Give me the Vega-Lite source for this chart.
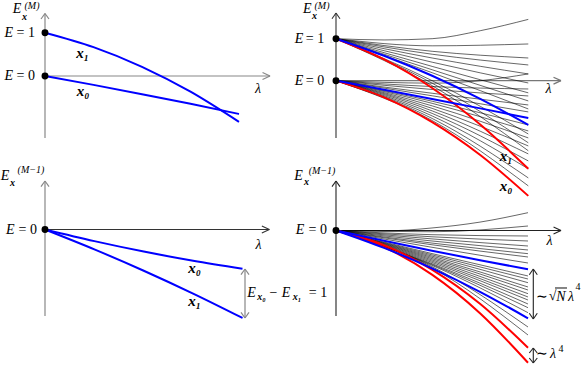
{
"$schema": "https://vega.github.io/schema/vega-lite/v6.json",
"padding": 0,
"spacing": 0,
"bounds": "flush",
"columns": 2,
"config": {"view": {"stroke": null}, "concat": {"spacing": 0}},
"concat": [
{
"width": 293, "height": 183,
"encoding": {
"x": {"field": "lam", "type": "quantitative", "scale": {"domain": [-0.2268, 1.2835], "nice": false, "zero": false}, "axis": null},
"y": {"field": "E", "type": "quantitative", "scale": {"domain": [-2.494, 1.732], "nice": false, "zero": false}, "axis": null}
},
"layer": [
{"data": {"values": [
{"lam": 0, "E": -1.432, "lam2": 0, "E2": 1.443},
{"lam": -0.0206, "E": 1.316, "lam2": 0, "E2": 1.443},
{"lam": 0.0206, "E": 1.316, "lam2": 0, "E2": 1.443},
{"lam": 0, "E": 0, "lam2": 1.16, "E2": 0},
{"lam": 1.1213, "E": 0.081, "lam2": 1.16, "E2": 0},
{"lam": 1.1213, "E": -0.081, "lam2": 1.16, "E2": 0}
]},
"mark": {"type": "rule", "color": "#888888", "strokeWidth": 1.2},
"encoding": {"x2": {"field": "lam2"}, "y2": {"field": "E2"}}},
{"data": {"values": [
{"id": "x1", "lam": 0, "E": 1}, {"id": "x1", "lam": 0.25, "E": 0.667}, {"id": "x1", "lam": 0.5, "E": 0.2125}, {"id": "x1", "lam": 0.75, "E": -0.363}, {"id": "x1", "lam": 1, "E": -1.06},
{"id": "x0", "lam": 0, "E": 0}, {"id": "x0", "lam": 0.25, "E": -0.205}, {"id": "x0", "lam": 0.5, "E": -0.419}, {"id": "x0", "lam": 0.75, "E": -0.643}, {"id": "x0", "lam": 1, "E": -0.877}
]},
"mark": {"type": "line", "interpolate": "monotone", "color": "#0000ff", "strokeWidth": 2},
"encoding": {"detail": {"field": "id"}}},
{"data": {"values": [{"lam": 0, "E": 1}, {"lam": 0, "E": 0}]},
"mark": {"type": "circle", "size": 48, "color": "#000000", "opacity": 1}},
{"data": {"values": [
{"lam": -0.1866, "E": 1, "t": "E"}, {"lam": -0.1866, "E": 0, "t": "E"},
{"lam": -0.1443, "E": 1.536, "t": "E"}, {"lam": 1.098, "E": -0.3, "t": "λ"}
]},
"mark": {"type": "text", "font": "Liberation Serif", "fontSize": 14, "fontStyle": "italic", "align": "center", "baseline": "middle"},
"encoding": {"text": {"field": "t"}}},
{"data": {"values": [{"lam": -0.0995, "E": 1, "t": "= 1"}, {"lam": -0.0995, "E": 0, "t": "= 0"}]},
"mark": {"type": "text", "font": "Liberation Serif", "fontSize": 14, "align": "center", "baseline": "middle"},
"encoding": {"text": {"field": "t"}}},
{"data": {"values": [{"lam": 0.1933, "E": 0.531, "t": "x₁"}, {"lam": 0.1959, "E": -0.346, "t": "x₀"}]},
"mark": {"type": "text", "font": "Liberation Serif", "fontSize": 15, "fontStyle": "italic", "fontWeight": "bold", "align": "center", "baseline": "middle"},
"encoding": {"text": {"field": "t"}}},
{"data": {"values": [{"lam": -0.1057, "E": 1.374, "t": "x"}]},
"mark": {"type": "text", "font": "Liberation Serif", "fontSize": 10, "fontStyle": "italic", "fontWeight": "bold", "align": "center", "baseline": "middle"},
"encoding": {"text": {"field": "t"}}},
{"data": {"values": [{"lam": -0.067, "E": 1.628, "t": "(M)"}]},
"mark": {"type": "text", "font": "Liberation Serif", "fontSize": 10, "fontStyle": "italic", "align": "center", "baseline": "middle"},
"encoding": {"text": {"field": "t"}}}
]
},
{
"width": 293, "height": 183,
"encoding": {
"x": {"field": "lam", "type": "quantitative", "scale": {"domain": [-0.2184, 1.3053], "nice": false, "zero": false}, "axis": null},
"y": {"field": "E", "type": "quantitative", "scale": {"domain": [-2.462, 1.898], "nice": false, "zero": false}, "axis": null}
},
"layer": [
{"data": {"values": [
{"lam": 0, "E": 0, "lam2": 1.17, "E2": 0},
{"lam": 1.131, "E": 0.083, "lam2": 1.17, "E2": 0},
{"lam": 1.131, "E": -0.083, "lam2": 1.17, "E2": 0}
]},
"mark": {"type": "rule", "color": "#777777", "strokeWidth": 1.2},
"encoding": {"x2": {"field": "lam2"}, "y2": {"field": "E2"}}},
{"data": {"values": [
{"lam": 0, "E": -1.367, "lam2": 0, "E2": 1.612},
{"lam": -0.0208, "E": 1.476, "lam2": 0, "E2": 1.612},
{"lam": 0.0208, "E": 1.476, "lam2": 0, "E2": 1.612}
]},
"mark": {"type": "rule", "color": "#333333", "strokeWidth": 1.1},
"encoding": {"x2": {"field": "lam2"}, "y2": {"field": "E2"}}},
{"data": {"values": [
{"id": "u1", "lam": 0, "E": 1}, {"id": "u1", "lam": 0.25, "E": 0.97}, {"id": "u1", "lam": 0.5, "E": 1.0}, {"id": "u1", "lam": 0.75, "E": 1.19}, {"id": "u1", "lam": 1, "E": 1.46},
{"id": "u2", "lam": 0, "E": 1}, {"id": "u2", "lam": 0.5, "E": 0.83}, {"id": "u2", "lam": 1, "E": 0.874},
{"id": "u3", "lam": 0, "E": 1}, {"id": "u3", "lam": 0.5, "E": 0.7}, {"id": "u3", "lam": 1, "E": 0.54},
{"id": "u4", "lam": 0, "E": 1}, {"id": "u4", "lam": 0.5, "E": 0.63}, {"id": "u4", "lam": 1, "E": 0.374},
{"id": "u5", "lam": 0, "E": 1}, {"id": "u5", "lam": 0.5, "E": 0.54}, {"id": "u5", "lam": 1, "E": 0.16},
{"id": "u6", "lam": 0, "E": 1}, {"id": "u6", "lam": 0.5, "E": 0.44}, {"id": "u6", "lam": 1, "E": -0.055},
{"id": "u7", "lam": 0, "E": 1}, {"id": "u7", "lam": 0.5, "E": 0.34}, {"id": "u7", "lam": 1, "E": -0.29},
{"id": "u8", "lam": 0, "E": 1}, {"id": "u8", "lam": 0.5, "E": 0.26}, {"id": "u8", "lam": 1, "E": -0.483},
{"id": "u9", "lam": 0, "E": 1}, {"id": "u9", "lam": 0.5, "E": 0.19}, {"id": "u9", "lam": 1, "E": -0.674},
{"id": "u10", "lam": 0, "E": 1}, {"id": "u10", "lam": 0.5, "E": 0.0}, {"id": "u10", "lam": 1, "E": -1.27},
{"id": "u11", "lam": 0, "E": 1}, {"id": "u11", "lam": 0.5, "E": -0.06}, {"id": "u11", "lam": 1, "E": -1.48},
{"id": "u12", "lam": 0, "E": 1}, {"id": "u12", "lam": 0.5, "E": -0.12}, {"id": "u12", "lam": 1, "E": -1.67},
{"id": "l1", "lam": 0, "E": 0}, {"id": "l1", "lam": 0.25, "E": -0.04}, {"id": "l1", "lam": 0.5, "E": -0.06}, {"id": "l1", "lam": 0.75, "E": 0.0}, {"id": "l1", "lam": 1, "E": 0.16},
{"id": "l2", "lam": 0, "E": 0}, {"id": "l2", "lam": 0.5, "E": -0.14}, {"id": "l2", "lam": 1, "E": -0.198},
{"id": "l3", "lam": 0, "E": 0}, {"id": "l3", "lam": 0.5, "E": -0.21}, {"id": "l3", "lam": 1, "E": -0.364},
{"id": "l4", "lam": 0, "E": 0}, {"id": "l4", "lam": 0.5, "E": -0.3}, {"id": "l4", "lam": 1, "E": -0.579},
{"id": "l5", "lam": 0, "E": 0}, {"id": "l5", "lam": 0.5, "E": -0.36}, {"id": "l5", "lam": 1, "E": -0.745},
{"id": "l6", "lam": 0, "E": 0}, {"id": "l6", "lam": 0.5, "E": -0.49}, {"id": "l6", "lam": 1, "E": -1.055},
{"id": "l7", "lam": 0, "E": 0}, {"id": "l7", "lam": 0.5, "E": -0.54}, {"id": "l7", "lam": 1, "E": -1.198},
{"id": "l8", "lam": 0, "E": 0}, {"id": "l8", "lam": 0.5, "E": -0.6}, {"id": "l8", "lam": 1, "E": -1.364},
{"id": "l9", "lam": 0, "E": 0}, {"id": "l9", "lam": 0.5, "E": -0.66}, {"id": "l9", "lam": 1, "E": -1.555},
{"id": "l10", "lam": 0, "E": 0}, {"id": "l10", "lam": 0.5, "E": -0.72}, {"id": "l10", "lam": 1, "E": -1.745},
{"id": "l11", "lam": 0, "E": 0}, {"id": "l11", "lam": 0.5, "E": -0.78}, {"id": "l11", "lam": 1, "E": -1.912},
{"id": "l12", "lam": 0, "E": 0}, {"id": "l12", "lam": 0.5, "E": -0.84}, {"id": "l12", "lam": 1, "E": -2.1},
{"id": "l13", "lam": 0, "E": 0}, {"id": "l13", "lam": 0.5, "E": -0.9}, {"id": "l13", "lam": 1, "E": -2.317},
{"id": "l14", "lam": 0, "E": 0}, {"id": "l14", "lam": 0.5, "E": -0.95}, {"id": "l14", "lam": 1, "E": -2.507}
]},
"mark": {"type": "line", "interpolate": "monotone", "color": "#000000", "strokeWidth": 0.6},
"encoding": {"detail": {"field": "id"}}},
{"data": {"values": [
{"id": "x1r", "role": "bound", "lam": 0, "E": 1}, {"id": "x1r", "role": "bound", "lam": 0.25, "E": 0.506}, {"id": "x1r", "role": "bound", "lam": 0.5, "E": -0.175}, {"id": "x1r", "role": "bound", "lam": 0.75, "E": -1.044}, {"id": "x1r", "role": "bound", "lam": 1, "E": -2.1},
{"id": "x0r", "role": "bound", "lam": 0, "E": 0}, {"id": "x0r", "role": "bound", "lam": 0.25, "E": -0.4}, {"id": "x0r", "role": "bound", "lam": 0.5, "E": -0.99}, {"id": "x0r", "role": "bound", "lam": 0.75, "E": -1.772}, {"id": "x0r", "role": "bound", "lam": 1, "E": -2.745},
{"id": "x1b", "role": "state", "lam": 0, "E": 1}, {"id": "x1b", "role": "state", "lam": 0.25, "E": 0.594}, {"id": "x1b", "role": "state", "lam": 0.5, "E": 0.117}, {"id": "x1b", "role": "state", "lam": 0.75, "E": -0.433}, {"id": "x1b", "role": "state", "lam": 1, "E": -1.055},
{"id": "x0b", "role": "state", "lam": 0, "E": 0}, {"id": "x0b", "role": "state", "lam": 0.25, "E": -0.215}, {"id": "x0b", "role": "state", "lam": 0.5, "E": -0.435}, {"id": "x0b", "role": "state", "lam": 0.75, "E": -0.66}, {"id": "x0b", "role": "state", "lam": 1, "E": -0.89}
]},
"mark": {"type": "line", "interpolate": "monotone", "strokeWidth": 2},
"encoding": {"detail": {"field": "id"}, "color": {"field": "role", "type": "nominal", "scale": {"domain": ["state", "bound"], "range": ["#0000ff", "#ff0000"]}, "legend": null}}},
{"data": {"values": [{"lam": 0, "E": 1}, {"lam": 0, "E": 0}]},
"mark": {"type": "circle", "size": 48, "color": "#000000", "opacity": 1}},
{"data": {"values": [
{"lam": -0.1924, "E": 1, "t": "E"}, {"lam": -0.1924, "E": 0, "t": "E"},
{"lam": -0.1498, "E": 1.7, "t": "E"}, {"lam": 1.105, "E": -0.198, "t": "λ"}
]},
"mark": {"type": "text", "font": "Liberation Serif", "fontSize": 14, "fontStyle": "italic", "align": "center", "baseline": "middle"},
"encoding": {"text": {"field": "t"}}},
{"data": {"values": [{"lam": -0.1092, "E": 1, "t": "= 1"}, {"lam": -0.1092, "E": 0, "t": "= 0"}]},
"mark": {"type": "text", "font": "Liberation Serif", "fontSize": 14, "align": "center", "baseline": "middle"},
"encoding": {"text": {"field": "t"}}},
{"data": {"values": [{"lam": 0.884, "E": -1.793, "t": "x₁"}, {"lam": 0.884, "E": -2.507, "t": "x₀"}]},
"mark": {"type": "text", "font": "Liberation Serif", "fontSize": 15, "fontStyle": "italic", "fontWeight": "bold", "align": "center", "baseline": "middle"},
"encoding": {"text": {"field": "t"}}},
{"data": {"values": [{"lam": -0.1118, "E": 1.54, "t": "x"}]},
"mark": {"type": "text", "font": "Liberation Serif", "fontSize": 10, "fontStyle": "italic", "fontWeight": "bold", "align": "center", "baseline": "middle"},
"encoding": {"text": {"field": "t"}}},
{"data": {"values": [{"lam": -0.0728, "E": 1.79, "t": "(M)"}]},
"mark": {"type": "text", "font": "Liberation Serif", "fontSize": 10, "fontStyle": "italic", "align": "center", "baseline": "middle"},
"encoding": {"text": {"field": "t"}}}
]
},
{
"width": 293, "height": 184,
"encoding": {
"x": {"field": "lam", "type": "quantitative", "scale": {"domain": [-0.2228, 1.2608], "nice": false, "zero": false}, "axis": null},
"y": {"field": "E", "type": "quantitative", "scale": {"domain": [-2.809, 0.923], "nice": false, "zero": false}, "axis": null}
},
"layer": [
{"data": {"values": [
{"lam": 0, "E": -1.755, "lam2": 0, "E2": 0.984},
{"lam": -0.0203, "E": 0.868, "lam2": 0, "E2": 0.984},
{"lam": 0.0203, "E": 0.868, "lam2": 0, "E2": 0.984},
{"lam": 1.0127, "E": -0.801, "lam2": 1.0127, "E2": -1.795},
{"lam": 0.9924, "E": -0.917, "lam2": 1.0127, "E2": -0.801},
{"lam": 1.033, "E": -0.917, "lam2": 1.0127, "E2": -0.801},
{"lam": 0.9924, "E": -1.679, "lam2": 1.0127, "E2": -1.795},
{"lam": 1.033, "E": -1.679, "lam2": 1.0127, "E2": -1.795}
]},
"mark": {"type": "rule", "color": "#888888", "strokeWidth": 1.2},
"encoding": {"x2": {"field": "lam2"}, "y2": {"field": "E2"}}},
{"data": {"values": [
{"lam": 0, "E": 0, "lam2": 1.136, "E2": 0},
{"lam": 1.098, "E": 0.071, "lam2": 1.136, "E2": 0},
{"lam": 1.098, "E": -0.071, "lam2": 1.136, "E2": 0}
]},
"mark": {"type": "rule", "color": "#333333", "strokeWidth": 1.1},
"encoding": {"x2": {"field": "lam2"}, "y2": {"field": "E2"}}},
{"data": {"values": [
{"id": "x0", "lam": 0, "E": 0}, {"id": "x0", "lam": 0.25, "E": -0.236}, {"id": "x0", "lam": 0.5, "E": -0.4475}, {"id": "x0", "lam": 0.75, "E": -0.634}, {"id": "x0", "lam": 1, "E": -0.795},
{"id": "x1", "lam": 0, "E": 0}, {"id": "x1", "lam": 0.25, "E": -0.403}, {"id": "x1", "lam": 0.5, "E": -0.836}, {"id": "x1", "lam": 0.75, "E": -1.3}, {"id": "x1", "lam": 1, "E": -1.795}
]},
"mark": {"type": "line", "interpolate": "monotone", "color": "#0000ff", "strokeWidth": 2},
"encoding": {"detail": {"field": "id"}}},
{"data": {"values": [{"lam": 0, "E": 0}]},
"mark": {"type": "circle", "size": 48, "color": "#000000", "opacity": 1}},
{"data": {"values": [
{"lam": -0.1762, "E": 0, "t": "E"}, {"lam": -0.2025, "E": 1.085, "t": "E"},
{"lam": 1.081, "E": -0.314, "t": "λ"},
{"lam": 1.0456, "E": -1.288, "t": "E"}, {"lam": 1.2203, "E": -1.288, "t": "E"}
]},
"mark": {"type": "text", "font": "Liberation Serif", "fontSize": 14, "fontStyle": "italic", "align": "center", "baseline": "middle"},
"encoding": {"text": {"field": "t"}}},
{"data": {"values": [
{"lam": -0.0876, "E": 0, "t": "= 0"},
{"lam": 1.157, "E": -1.288, "t": "−"},
{"lam": 1.3823, "E": -1.288, "t": "= 1"}
]},
"mark": {"type": "text", "font": "Liberation Serif", "fontSize": 14, "align": "center", "baseline": "middle"},
"encoding": {"text": {"field": "t"}}},
{"data": {"values": [{"lam": 0.757, "E": -0.781, "t": "x₀"}, {"lam": 0.757, "E": -1.45, "t": "x₁"}]},
"mark": {"type": "text", "font": "Liberation Serif", "fontSize": 15, "fontStyle": "italic", "fontWeight": "bold", "align": "center", "baseline": "middle"},
"encoding": {"text": {"field": "t"}}},
{"data": {"values": [
{"lam": -0.1646, "E": 0.953, "t": "x"},
{"lam": 1.0962, "E": -1.379, "t": "x₀"},
{"lam": 1.2759, "E": -1.379, "t": "x₁"}
]},
"mark": {"type": "text", "font": "Liberation Serif", "fontSize": 10, "fontStyle": "italic", "fontWeight": "bold", "align": "center", "baseline": "middle"},
"encoding": {"text": {"field": "t"}}},
{"data": {"values": [{"lam": -0.0709, "E": 1.197, "t": "(M−1)"}]},
"mark": {"type": "text", "font": "Liberation Serif", "fontSize": 10, "fontStyle": "italic", "align": "center", "baseline": "middle"},
"encoding": {"text": {"field": "t"}}}
]
},
{
"width": 293, "height": 184,
"encoding": {
"x": {"field": "lam", "type": "quantitative", "scale": {"domain": [-0.21875, 1.3073], "nice": false, "zero": false}, "axis": null},
"y": {"field": "E", "type": "quantitative", "scale": {"domain": [-3.274, 1.107], "nice": false, "zero": false}, "axis": null}
},
"layer": [
{"data": {"values": [
{"lam": 0, "E": -2.036, "lam2": 0, "E2": 1.179},
{"lam": -0.0208, "E": 1.043, "lam2": 0, "E2": 1.179},
{"lam": 0.0208, "E": 1.043, "lam2": 0, "E2": 1.179},
{"lam": 0, "E": 0, "lam2": 1.172, "E2": 0},
{"lam": 1.133, "E": 0.083, "lam2": 1.172, "E2": 0},
{"lam": 1.133, "E": -0.083, "lam2": 1.172, "E2": 0},
{"lam": 1.0276, "E": -0.917, "lam2": 1.0276, "E2": -2.107},
{"lam": 1.0068, "E": -1.053, "lam2": 1.0276, "E2": -0.917},
{"lam": 1.0484, "E": -1.053, "lam2": 1.0276, "E2": -0.917},
{"lam": 1.0068, "E": -1.971, "lam2": 1.0276, "E2": -2.107},
{"lam": 1.0484, "E": -1.971, "lam2": 1.0276, "E2": -2.107},
{"lam": 1.0276, "E": -2.798, "lam2": 1.0276, "E2": -3.155},
{"lam": 1.0068, "E": -2.917, "lam2": 1.0276, "E2": -2.798},
{"lam": 1.0484, "E": -2.917, "lam2": 1.0276, "E2": -2.798},
{"lam": 1.0068, "E": -3.036, "lam2": 1.0276, "E2": -3.155},
{"lam": 1.0484, "E": -3.036, "lam2": 1.0276, "E2": -3.155},
{"lam": 1.1406, "E": -1.369, "lam2": 1.2031, "E2": -1.369}
]},
"mark": {"type": "rule", "color": "#222222", "strokeWidth": 1.1},
"encoding": {"x2": {"field": "lam2"}, "y2": {"field": "E2"}}},
{"data": {"values": [
{"id": "b1", "lam": 0, "E": 0}, {"id": "b1", "lam": 0.25, "E": -0.01}, {"id": "b1", "lam": 0.5, "E": 0.06}, {"id": "b1", "lam": 0.75, "E": 0.2}, {"id": "b1", "lam": 1, "E": 0.424},
{"id": "b2", "lam": 0, "E": 0}, {"id": "b2", "lam": 0.5, "E": -0.03}, {"id": "b2", "lam": 1, "E": 0.107},
{"id": "b3", "lam": 0, "E": 0}, {"id": "b3", "lam": 0.5, "E": -0.1}, {"id": "b3", "lam": 1, "E": -0.131},
{"id": "b4", "lam": 0, "E": 0}, {"id": "b4", "lam": 0.5, "E": -0.15}, {"id": "b4", "lam": 1, "E": -0.25},
{"id": "b5", "lam": 0, "E": 0}, {"id": "b5", "lam": 0.5, "E": -0.2}, {"id": "b5", "lam": 1, "E": -0.369},
{"id": "b6", "lam": 0, "E": 0}, {"id": "b6", "lam": 0.5, "E": -0.25}, {"id": "b6", "lam": 1, "E": -0.464},
{"id": "b7", "lam": 0, "E": 0}, {"id": "b7", "lam": 0.5, "E": -0.3}, {"id": "b7", "lam": 1, "E": -0.552},
{"id": "b8", "lam": 0, "E": 0}, {"id": "b8", "lam": 0.5, "E": -0.34}, {"id": "b8", "lam": 1, "E": -0.631},
{"id": "b9", "lam": 0, "E": 0}, {"id": "b9", "lam": 0.5, "E": -0.4}, {"id": "b9", "lam": 1, "E": -0.774},
{"id": "b10", "lam": 0, "E": 0}, {"id": "b10", "lam": 0.5, "E": -0.55}, {"id": "b10", "lam": 1, "E": -1.083},
{"id": "b11", "lam": 0, "E": 0}, {"id": "b11", "lam": 0.5, "E": -0.58}, {"id": "b11", "lam": 1, "E": -1.155},
{"id": "b12", "lam": 0, "E": 0}, {"id": "b12", "lam": 0.5, "E": -0.61}, {"id": "b12", "lam": 1, "E": -1.243},
{"id": "b13", "lam": 0, "E": 0}, {"id": "b13", "lam": 0.5, "E": -0.64}, {"id": "b13", "lam": 1, "E": -1.345},
{"id": "b14", "lam": 0, "E": 0}, {"id": "b14", "lam": 0.5, "E": -0.67}, {"id": "b14", "lam": 1, "E": -1.417},
{"id": "b15", "lam": 0, "E": 0}, {"id": "b15", "lam": 0.5, "E": -0.7}, {"id": "b15", "lam": 1, "E": -1.505},
{"id": "b16", "lam": 0, "E": 0}, {"id": "b16", "lam": 0.5, "E": -0.73}, {"id": "b16", "lam": 1, "E": -1.583},
{"id": "b17", "lam": 0, "E": 0}, {"id": "b17", "lam": 0.5, "E": -0.76}, {"id": "b17", "lam": 1, "E": -1.655},
{"id": "b18", "lam": 0, "E": 0}, {"id": "b18", "lam": 0.5, "E": -0.79}, {"id": "b18", "lam": 1, "E": -1.75},
{"id": "b19", "lam": 0, "E": 0}, {"id": "b19", "lam": 0.5, "E": -0.81}, {"id": "b19", "lam": 1, "E": -1.838},
{"id": "b20", "lam": 0, "E": 0}, {"id": "b20", "lam": 0.5, "E": -0.83}, {"id": "b20", "lam": 1, "E": -1.957},
{"id": "b21", "lam": 0, "E": 0}, {"id": "b21", "lam": 0.5, "E": -0.86}, {"id": "b21", "lam": 1, "E": -2.298},
{"id": "b22", "lam": 0, "E": 0}, {"id": "b22", "lam": 0.5, "E": -0.89}, {"id": "b22", "lam": 1, "E": -2.488}
]},
"mark": {"type": "line", "interpolate": "monotone", "color": "#000000", "strokeWidth": 0.6},
"encoding": {"detail": {"field": "id"}}},
{"data": {"values": [
{"id": "ru", "role": "bound", "lam": 0, "E": 0}, {"id": "ru", "role": "bound", "lam": 0.25, "E": -0.349}, {"id": "ru", "role": "bound", "lam": 0.5, "E": -0.93}, {"id": "ru", "role": "bound", "lam": 0.75, "E": -1.744}, {"id": "ru", "role": "bound", "lam": 1, "E": -2.79},
{"id": "rl", "role": "bound", "lam": 0, "E": 0}, {"id": "rl", "role": "bound", "lam": 0.25, "E": -0.394}, {"id": "rl", "role": "bound", "lam": 0.5, "E": -1.05}, {"id": "rl", "role": "bound", "lam": 0.75, "E": -1.968}, {"id": "rl", "role": "bound", "lam": 1, "E": -3.148},
{"id": "bu", "role": "state", "lam": 0, "E": 0}, {"id": "bu", "role": "state", "lam": 0.25, "E": -0.245}, {"id": "bu", "role": "state", "lam": 0.5, "E": -0.481}, {"id": "bu", "role": "state", "lam": 0.75, "E": -0.707}, {"id": "bu", "role": "state", "lam": 1, "E": -0.924},
{"id": "bl", "role": "state", "lam": 0, "E": 0}, {"id": "bl", "role": "state", "lam": 0.25, "E": -0.414}, {"id": "bl", "role": "state", "lam": 0.5, "E": -0.9}, {"id": "bl", "role": "state", "lam": 0.75, "E": -1.459}, {"id": "bl", "role": "state", "lam": 1, "E": -2.09}
]},
"mark": {"type": "line", "interpolate": "monotone", "strokeWidth": 2},
"encoding": {"detail": {"field": "id"}, "color": {"field": "role", "type": "nominal", "scale": {"domain": ["state", "bound"], "range": ["#0000ff", "#ff0000"]}, "legend": null}}},
{"data": {"values": [{"lam": 0, "E": 0}]},
"mark": {"type": "circle", "size": 48, "color": "#000000", "opacity": 1}},
{"data": {"values": [
{"lam": -0.1875, "E": 0, "t": "E"}, {"lam": -0.1953, "E": 1.298, "t": "E"},
{"lam": 1.112, "E": -0.25, "t": "λ"},
{"lam": 1.1719, "E": -1.583, "t": "N"}, {"lam": 1.224, "E": -1.583, "t": "λ"},
{"lam": 1.1302, "E": -2.94, "t": "λ"}
]},
"mark": {"type": "text", "font": "Liberation Serif", "fontSize": 14, "fontStyle": "italic", "align": "center", "baseline": "middle"},
"encoding": {"text": {"field": "t"}}},
{"data": {"values": [
{"lam": -0.0948, "E": 0, "t": "= 0"},
{"lam": 1.0729, "E": -1.583, "t": "∼"}, {"lam": 1.1276, "E": -1.56, "t": "√"},
{"lam": 1.0729, "E": -2.94, "t": "∼"}
]},
"mark": {"type": "text", "font": "Liberation Serif", "fontSize": 14, "align": "center", "baseline": "middle"},
"encoding": {"text": {"field": "t"}}},
{"data": {"values": [{"lam": -0.1536, "E": 1.155, "t": "x"}]},
"mark": {"type": "text", "font": "Liberation Serif", "fontSize": 10, "fontStyle": "italic", "fontWeight": "bold", "align": "center", "baseline": "middle"},
"encoding": {"text": {"field": "t"}}},
{"data": {"values": [{"lam": -0.0729, "E": 1.417, "t": "(M−1)"}]},
"mark": {"type": "text", "font": "Liberation Serif", "fontSize": 10, "fontStyle": "italic", "align": "center", "baseline": "middle"},
"encoding": {"text": {"field": "t"}}},
{"data": {"values": [
{"lam": 1.2604, "E": -1.345, "t": "4"},
{"lam": 1.1719, "E": -2.821, "t": "4"}
]},
"mark": {"type": "text", "font": "Liberation Serif", "fontSize": 10, "align": "center", "baseline": "middle"},
"encoding": {"text": {"field": "t"}}}
]
}
]
}
